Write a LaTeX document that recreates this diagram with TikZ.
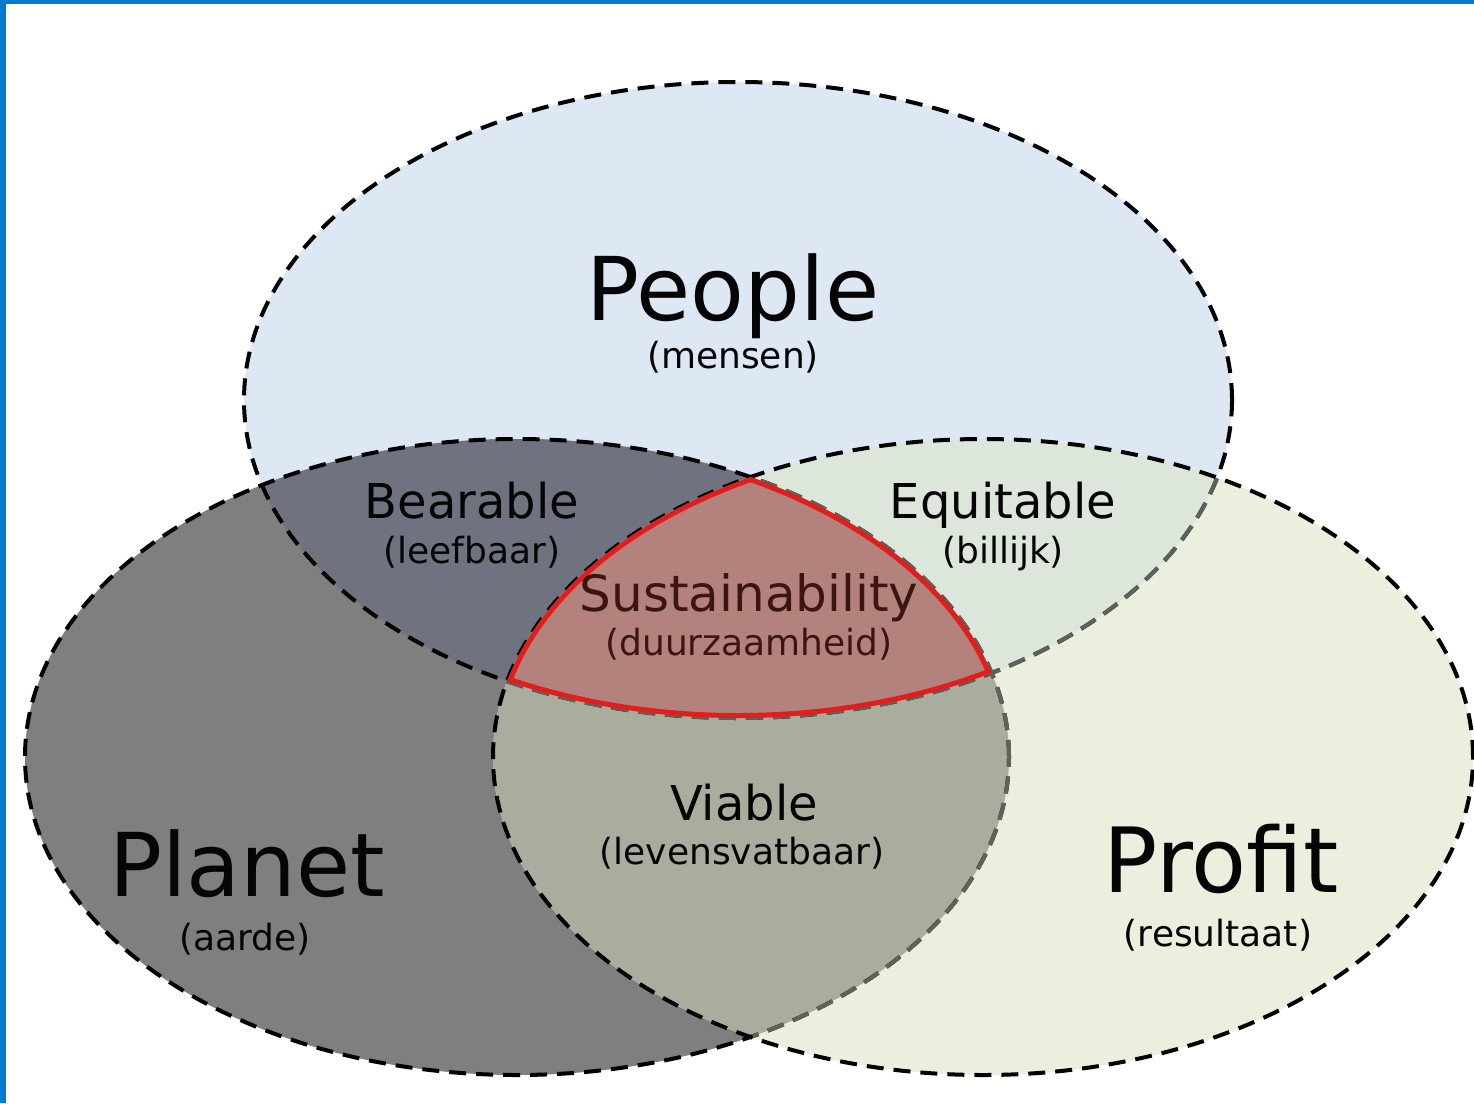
\documentclass[tikz,border=0pt]{standalone}
\usepackage{fontspec}
\setmainfont{DejaVu Sans}
\definecolor{frameblue}{HTML}{007ACC}
\definecolor{peoplec}{HTML}{DEE8F5}
\definecolor{planetc}{HTML}{7F7F7F}
\definecolor{profitc}{HTML}{EBEFDE}
\definecolor{bearc}{HTML}{6F7380}
\definecolor{equic}{HTML}{DDE6DA}
\definecolor{viac}{HTML}{A9AD9E}
\definecolor{susc}{HTML}{B4827C}
\definecolor{susred}{HTML}{E01E1E}
\definecolor{sustext}{HTML}{3B1512}
\definecolor{txt}{HTML}{050505}
\definecolor{dimdash}{HTML}{5F625A}
\begin{document}
\begin{tikzpicture}[x=1pt,y=-1pt,
  outline/.style={dash pattern=on 17pt off 10pt, line width=4pt},
  big/.style={anchor=base, text=txt, inner sep=0pt, font=\fontsize{88}{100}\selectfont},
  mid/.style={anchor=base, text=txt, inner sep=0pt, font=\fontsize{48}{56}\selectfont},
  small/.style={anchor=base, text=txt, inner sep=0pt, font=\fontsize{36}{44}\selectfont}]
\def\peo{(738,400) ellipse [x radius=494pt, y radius=318pt]}
\def\pla{(517,757) ellipse [x radius=492pt, y radius=318pt]}
\def\pro{(983,757) ellipse [x radius=490pt, y radius=318pt]}
\useasboundingbox (0,0) rectangle (1474,1103);
\fill[white] (0,0) rectangle (1474,1103);
% base fills
\fill[peoplec] \peo;
\fill[planetc] \pla;
\fill[profitc] \pro;
% pairwise overlaps
\begin{scope}\clip \peo; \fill[bearc] \pla; \fill[equic] \pro; \end{scope}
\begin{scope}\clip \pla; \fill[viac] \pro; \end{scope}
\begin{scope}\clip \peo; \clip \pla; \fill[susc] \pro; \end{scope}
% outlines
\draw[outline] \peo;
\draw[outline] \pla;
\begin{scope}\clip \pro;
  \draw[outline, dimdash] \peo;
  \draw[outline, dimdash] \pla;
\end{scope}
\draw[outline] \pro;
% red border of the centre
\begin{scope}\clip \peo; \clip \pla; \clip \pro;
  \draw[susred, line width=10pt] \peo;
  \draw[susred, line width=10pt] \pla;
  \draw[susred, line width=10pt] \pro;
\end{scope}
% frame strips
\fill[frameblue] (0,0) rectangle (1474,4);
\fill[frameblue] (0,0) rectangle (6,1103);
% labels
\node[big] (people) at (733,320) {People};
\node[small] (mensen) at (733,368) {(mensen)};
\node[mid] (bearable) at (472,518) {Bearable};
\node[small] (leefbaar) at (472,563) {(leefbaar)};
\node[mid] (equitable) at (1003,518) {Equitable};
\node[small] (billijk) at (1003,563) {(billijk)};
\node[mid, text=sustext, font=\fontsize{50}{58}\selectfont] (sust) at (749,611) {Sustainability};
\node[small, text=sustext] (duur) at (749,655) {(duurzaamheid)};
\node[mid] (viable) at (744,820) {Viable};
\node[small] (levens) at (742,864) {(levensvatbaar)};
\node[big] (planet) at (247,896) {Planet};
\node[small] (aarde) at (245,950) {(aarde)};
\node[big, font=\fontsize{90}{100}\selectfont] (profit) at (1221,892) {Profit};
\node[small] (result) at (1218,946) {(resultaat)};
\end{tikzpicture}
\end{document}
